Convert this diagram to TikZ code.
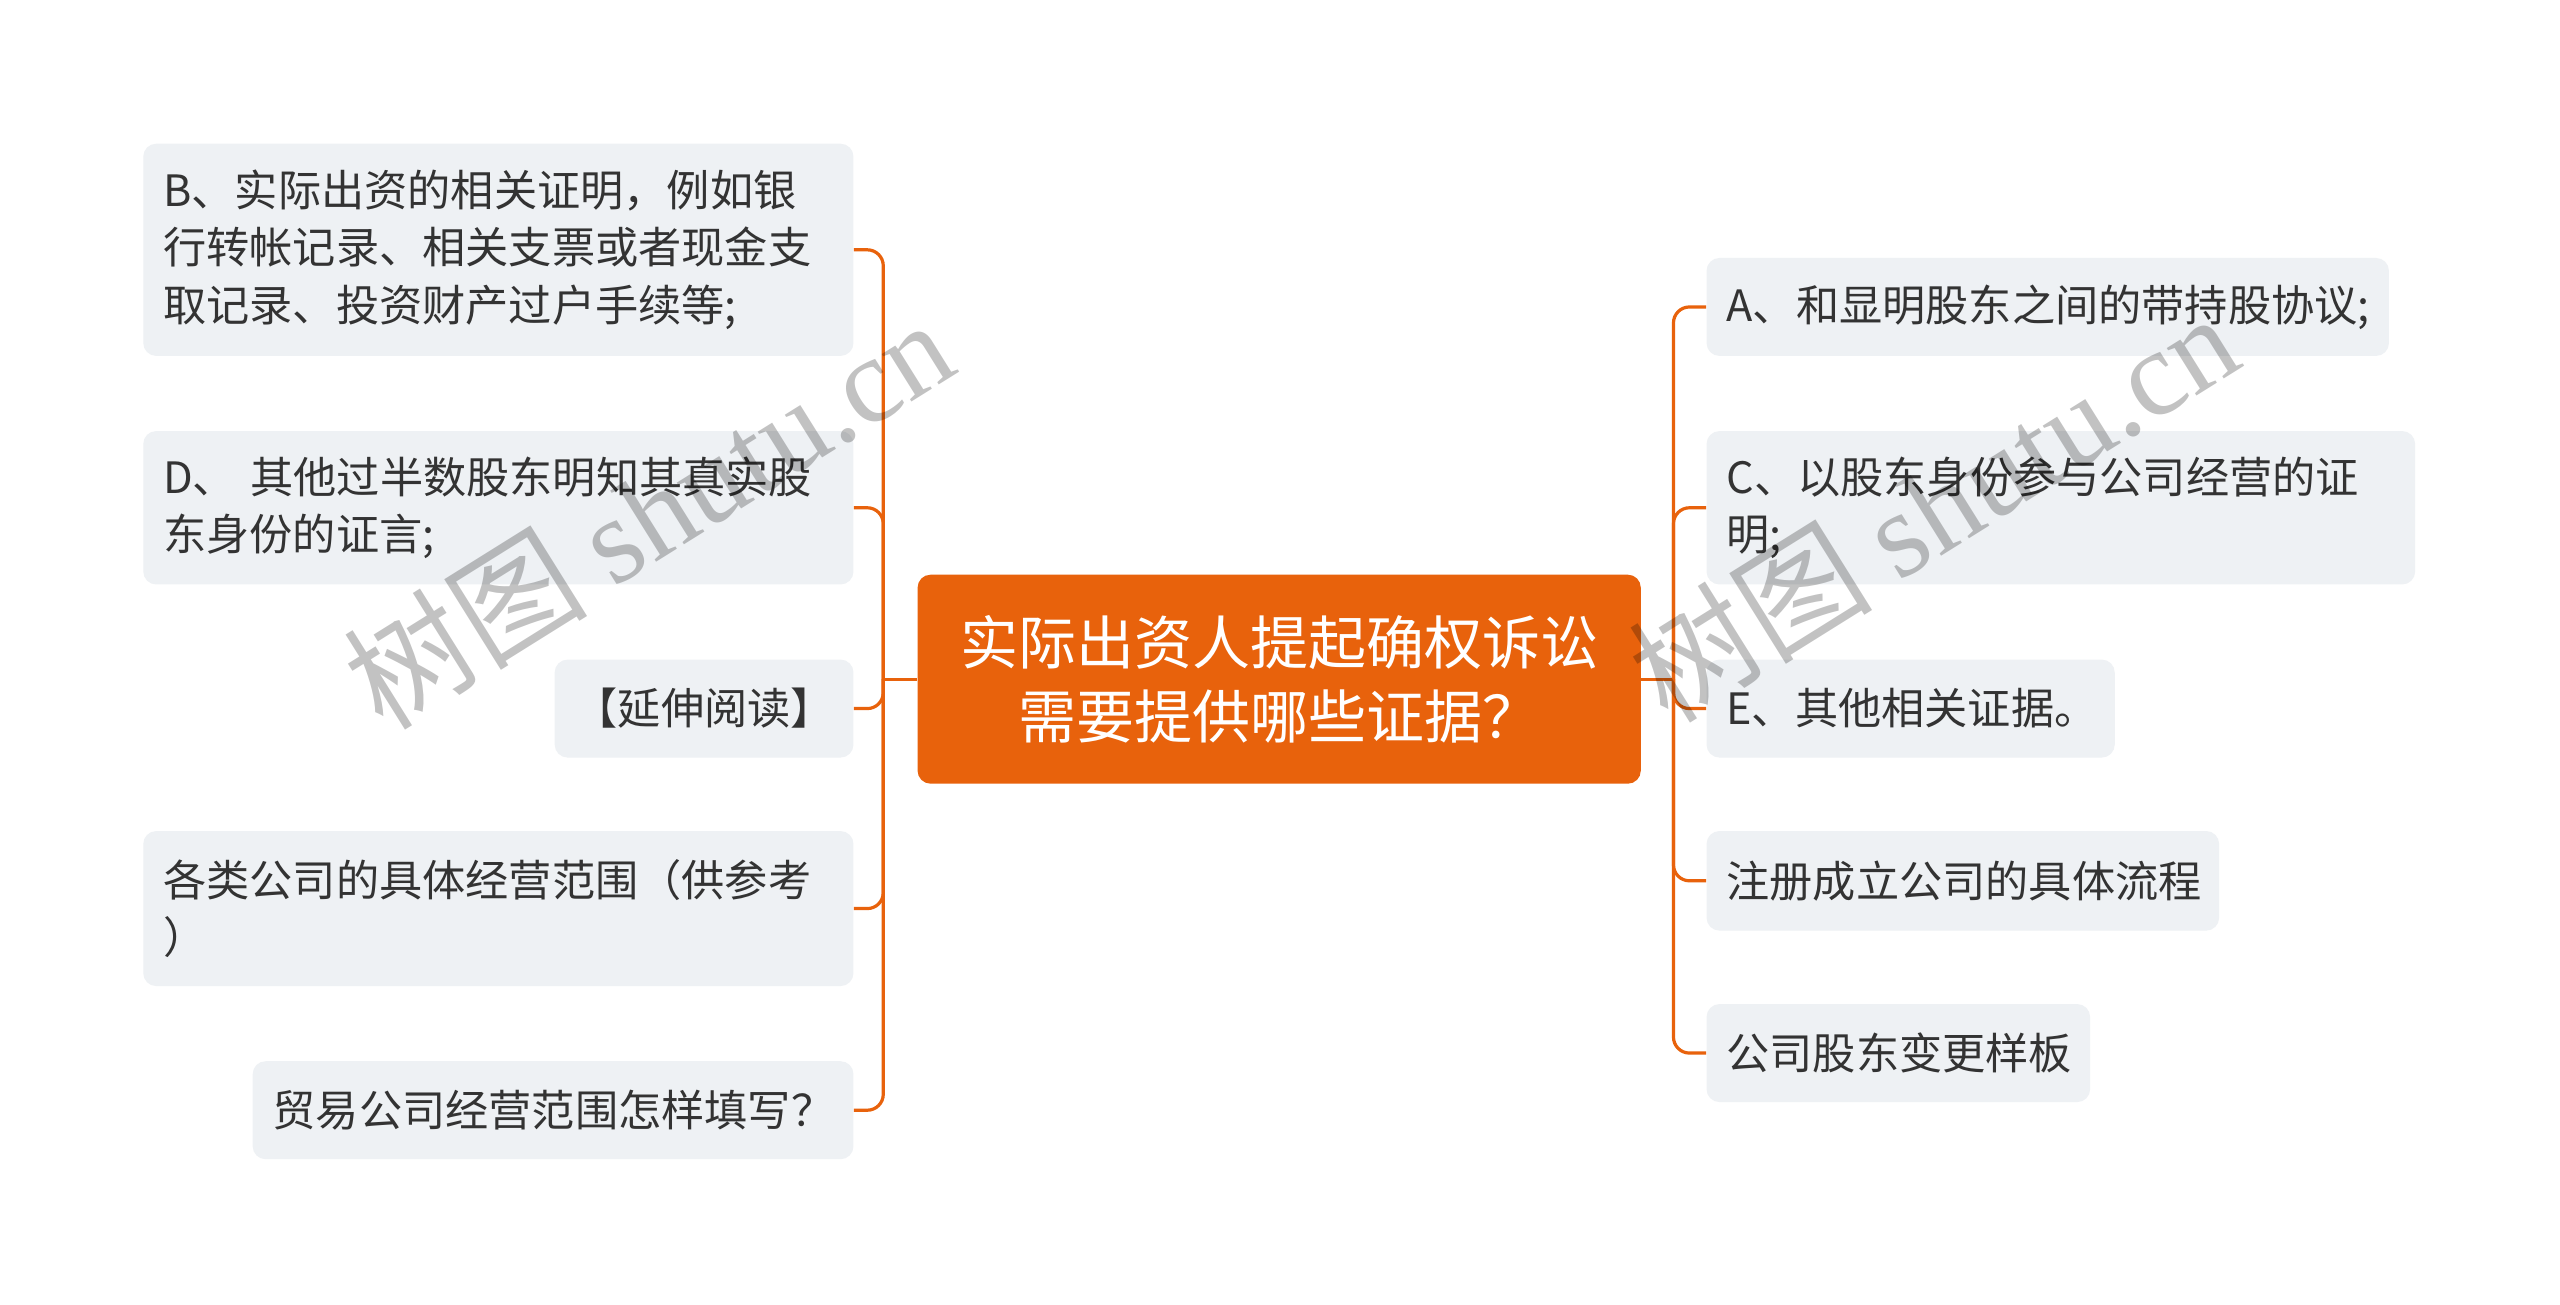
\documentclass[tikz,border=0pt]{standalone}
\usepackage{fontspec}
\newfontfamily\cjk{Noto Sans CJK SC}
\newfontfamily\wmserif{Liberation Serif}
\definecolor{mainorange}{HTML}{E8620C}
\definecolor{boxgray}{HTML}{EEF1F4}
\definecolor{txt}{HTML}{333333}
\begin{document}
\begin{tikzpicture}[x=0.8163pt,y=-0.8163pt,
  leaf/.style={fill=boxgray, rounded corners=6.5pt, inner xsep=10pt, inner ysep=0pt,
    align=left, text=txt, font=\cjk\fontsize{21.6pt}{28.6pt}\selectfont, minimum height=#1},
  rootbox/.style={fill=mainorange, rounded corners=6.5pt, inner sep=0pt, align=center,
    text=white, font=\cjk\fontsize{29pt}{36.7pt}\selectfont,
    minimum width=361.6pt, minimum height=104.5pt},
  conn/.style={draw=mainorange, line width=1.6pt, rounded corners=8pt},
  wmark/.style={rotate=32, text=black, text opacity=0.24, inner sep=0pt}]
\useasboundingbox (0,0) rectangle (1568,799);
\fill[white] (0,0) rectangle (1568,799);

% root
\node[rootbox] (root) at (783.5,416) {实际出资人提起确权诉讼\\需要提供哪些证据？};

% left branch
\node[leaf=106.1pt, text width=335.1pt, anchor=east] (B) at (523,153)
  {B、实际出资的相关证明，例如银\\行转帐记录、相关支票或者现金支\\取记录、投资财产过户手续等;};
\node[leaf=76.7pt, text width=335.1pt, anchor=east] (D) at (523,311)
  {D、 其他过半数股东明知其真实股\\东身份的证言;};
\node[leaf=49pt, text width=129.4pt, anchor=east] (ext) at (523,434)
  {【延伸阅读】};
\node[leaf=77.5pt, text width=335.1pt, anchor=east] (cat) at (523,556.5)
  {各类公司的具体经营范围（供参考\\）};
\node[leaf=49pt, text width=280.4pt, anchor=east] (trade) at (523,680)
  {贸易公司经营范围怎样填写？};

% right branch
\node[leaf=49pt, text width=321.2pt, anchor=west] (A) at (1045,188)
  {A、和显明股东之间的带持股协议;};
\node[leaf=76.7pt, text width=334.3pt, anchor=west] (C) at (1045,311)
  {C、以股东身份参与公司经营的证\\明;};
\node[leaf=49pt, text width=184.1pt, anchor=west] (E) at (1045,434)
  {E、其他相关证据。};
\node[leaf=49.8pt, text width=236.3pt, anchor=west] (reg) at (1045,539.5)
  {注册成立公司的具体流程};
\node[leaf=49pt, text width=171.8pt, anchor=west] (chg) at (1045,645)
  {公司股东变更样板};

% connectors
\coordinate (lj) at (541,416);
\coordinate (rj) at (1025,416);
\draw[conn] (root.west) -- (lj);
\foreach \n in {B,D,ext,cat,trade} \draw[conn] (lj) |- (\n.east);
\draw[conn] (root.east) -- (rj);
\foreach \n in {A,C,E,reg,chg} \draw[conn] (rj) |- (\n.west);

% watermark
\node[wmark] (wm1) at (397,314) {\cjk\fontsize{61pt}{64pt}\selectfont 树图 {\wmserif shutu.cn}};
\node[wmark] (wm2) at (1184,310) {\cjk\fontsize{61pt}{64pt}\selectfont 树图 {\wmserif shutu.cn}};
\end{tikzpicture}
\end{document}
